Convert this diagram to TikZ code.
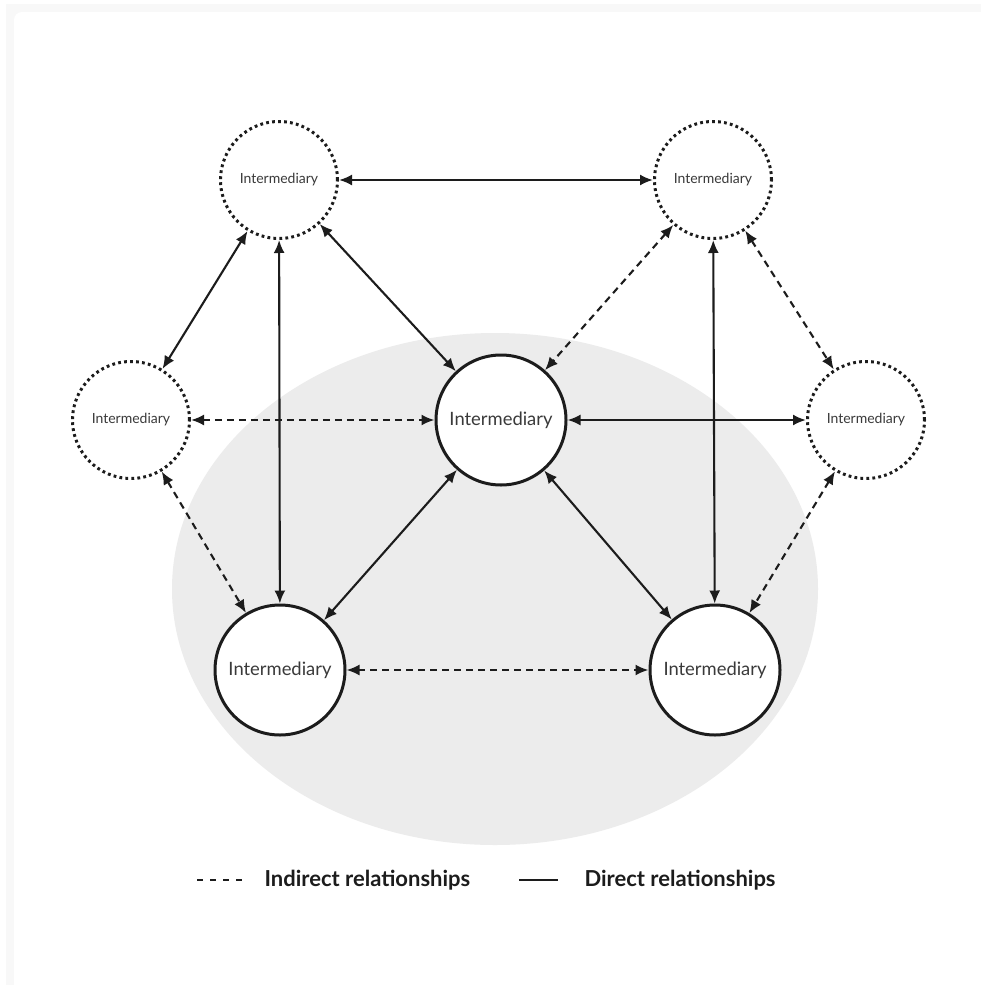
\documentclass[tikz,border=0pt]{standalone}
\usepackage{fontspec}
\setmainfont{Lato}
\usetikzlibrary{arrows.meta}
\definecolor{ink}{HTML}{1C1C1C}
\definecolor{label}{HTML}{3A3A3A}
\definecolor{zone}{HTML}{ECECEC}
\definecolor{frame}{HTML}{F8F8F8}
\begin{document}
\begin{tikzpicture}[x=1pt,y=-1pt,
  minor/.style={circle,draw=ink,fill=white,line width=3pt,
    dash pattern=on 2.8pt off 3.2pt,minimum size=117pt,inner sep=0pt,
    text=label,font=\fontsize{14}{16}\selectfont},
  major/.style={circle,draw=ink,fill=white,line width=3pt,
    minimum size=130pt,inner sep=0pt,
    text=label,font=\fontsize{18.4}{21}\selectfont},
  link/.style={draw=ink,line width=2.1pt,
    {Latex[length=13pt,width=11pt]}-{Latex[length=13pt,width=11pt]}},
  direct/.style={link},
  indirect/.style={link,dash pattern=on 7pt off 5pt},
  legendtext/.style={anchor=west,text=ink,font=\bfseries\fontsize{22}{25}\selectfont}]
\useasboundingbox (0,0) rectangle (981,985);
% faint page frame
\fill[frame] (6,4) rectangle (981,985);
\fill[white,rounded corners=8pt] (14,995) -- (14,12) -- (995,12) -- (995,995) -- cycle;
% shaded core zone
\fill[zone] (495,589) ellipse [x radius=323, y radius=256];
% nodes
\node[minor] (tl) at (279,180) {Intermediary};
\node[minor] (tr) at (713,180) {Intermediary};
\node[minor] (ml) at (131,420) {Intermediary};
\node[minor] (mr) at (866,420) {Intermediary};
\node[major] (c)  at (501,420) {Intermediary};
\node[major] (bl) at (280,670) {Intermediary};
\node[major] (br) at (715,670) {Intermediary};
% direct relationships
\draw[direct] (tl) -- (tr);
\draw[direct] (tl) -- (ml);
\draw[direct] (tl) -- (bl);
\draw[direct] (tl) -- (c);
\draw[direct] (tr) -- (br);
\draw[direct] (c) -- (mr);
\draw[direct] (c) -- (bl);
\draw[direct] (c) -- (br);
% indirect relationships
\draw[indirect] (tr) -- (c);
\draw[indirect] (tr) -- (mr);
\draw[indirect] (ml) -- (c);
\draw[indirect] (ml) -- (bl);
\draw[indirect] (mr) -- (br);
\draw[indirect] (bl) -- (br);
% legend
\coordinate (da) at (197,880);
\coordinate (db) at (242,880);
\coordinate (sa) at (519,880);
\coordinate (sb) at (558,880);
\draw[ink,line width=2pt,dash pattern=on 6pt off 7pt] (da) -- (db);
\node[legendtext] (lind) at (261,880) {Indirect relationships};
\draw[ink,line width=2pt] (sa) -- (sb);
\node[legendtext] (ldir) at (581,880) {Direct relationships};
\end{tikzpicture}
\end{document}
